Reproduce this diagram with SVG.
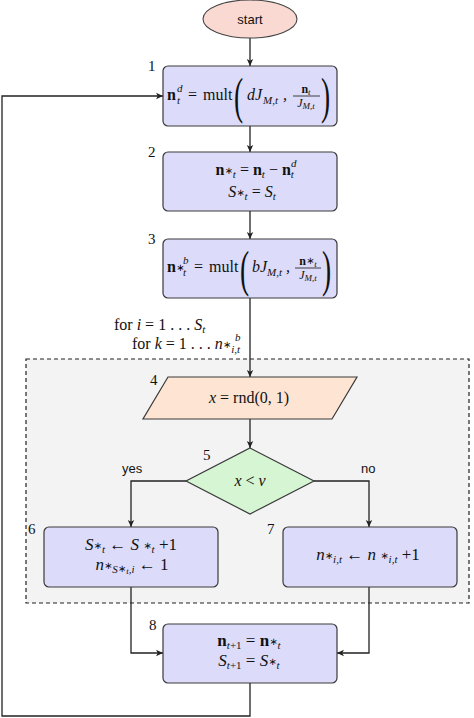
<svg xmlns="http://www.w3.org/2000/svg" width="474" height="718" viewBox="0 0 474 718">
<style>
.box{fill:#dcdcfa;stroke:#3a3a3a;stroke-width:1.2}
.m{font-family:"Liberation Serif",serif;font-style:italic;font-size:16px;fill:#111}
.l{font-size:17px}
.r{font-style:normal}
.b{font-style:normal;font-weight:bold}
.a{font-family:"DejaVu Sans",sans-serif;font-style:normal;font-weight:normal;font-size:10px}
.s{font-size:11px}
.ss{font-size:9px}
.f{font-size:12px}
.num{font-family:"Liberation Serif",serif;font-size:15px;fill:#111}
.sans{font-family:"Liberation Sans",sans-serif;font-size:13px;fill:#111}
.paren{font-family:"Liberation Serif",serif;font-size:50px;fill:#111}
.conn{fill:none;stroke:#222;stroke-width:1.3;marker-end:url(#ah)}
.bar{stroke:#111;stroke-width:0.8}
</style>
<defs>
<marker id="ah" markerUnits="userSpaceOnUse" markerWidth="8" markerHeight="8" refX="7" refY="4" orient="auto">
<path d="M0,0.8 L7,4 L0,7.2 L1.8,4 z" fill="#222"/>
</marker>
</defs>

<rect id="loop-region" x="26" y="359" width="443" height="244" fill="#f3f3f3" stroke="#222" stroke-width="1.2" stroke-dasharray="4,3"/>

<g id="connectors">
<path class="conn" d="M250,38 V66"/>
<path class="conn" d="M250,126 V152"/>
<path class="conn" d="M250,211 V239"/>
<path class="conn" d="M250,298 V377"/>
<path class="conn" d="M250,419 V448"/>
<path class="conn" d="M186,481 H131 V527"/>
<path class="conn" d="M314,481 H369 V527"/>
<path class="conn" d="M131,587 V653 H163"/>
<path class="conn" d="M369,587 V653 H337"/>
<path class="conn" d="M250,683 V716 H2 V96 H163"/>
<text class="sans" x="122" y="473">yes</text>
<text class="sans" x="361" y="473">no</text>
</g>

<g id="start">
<ellipse cx="250" cy="19" rx="47" ry="19" fill="#f9d9d1" stroke="#444" stroke-width="1.1"/>
<text class="sans" x="250" y="24" text-anchor="middle">start</text>
</g>

<g id="node1">
<rect class="box" x="163" y="66" width="174" height="60" rx="5"/>
<text class="num" x="148" y="71">1</text>
<text class="m b" x="167" y="100">n</text>
<text class="m s" x="177" y="104">t</text>
<text class="m s" x="177" y="92">d</text>
<text class="m r" x="188" y="100">=</text>
<text class="m r" x="203" y="100">mult</text>
<text class="paren" transform="translate(234,113) scale(0.55,1)">(</text>
<text class="m" x="247" y="100">d</text>
<text class="m" x="255" y="100">J</text>
<text class="m s" x="263" y="104">M,t</text>
<text class="m" x="283" y="100">,</text>
<text class="m f" x="306" y="93" text-anchor="middle"><tspan class="b">n</tspan><tspan class="ss" dy="2">t</tspan></text>
<line class="bar" x1="293" y1="96" x2="320" y2="96"/>
<text class="m f" x="306" y="107" text-anchor="middle">J<tspan class="ss" dy="2">M,t</tspan></text>
<text class="paren" transform="translate(321,113) scale(0.55,1)">)</text>
</g>

<g id="node2">
<rect class="box" x="163" y="152" width="174" height="59" rx="5"/>
<text class="num" x="148" y="157">2</text>
<text class="m" x="256" y="175" text-anchor="middle"><tspan class="b">n</tspan><tspan class="a" dy="-1">∗</tspan><tspan class="s" dy="4">t</tspan><tspan class="r" dy="-3"> = </tspan><tspan class="b">n</tspan><tspan class="s" dy="3">t</tspan><tspan class="r" dy="-3"> − </tspan><tspan class="b">n</tspan><tspan class="s" dy="3">t</tspan><tspan class="s" dx="-3" dy="-11">d</tspan></text>
<text class="m" x="252" y="197" text-anchor="middle">S<tspan class="a" dy="-1">∗</tspan><tspan class="s" dy="4">t</tspan><tspan class="r" dy="-3"> = </tspan>S<tspan class="s" dy="3">t</tspan></text>
</g>

<g id="node3">
<rect class="box" x="163" y="239" width="174" height="59" rx="5"/>
<text class="num" x="148" y="244">3</text>
<text class="m b" x="167" y="272">n</text>
<text class="a" x="176" y="271">∗</text>
<text class="m s" x="183" y="276">t</text>
<text class="m s" x="183" y="264">b</text>
<text class="m r" x="194" y="272">=</text>
<text class="m r" x="209" y="272">mult</text>
<text class="paren" transform="translate(240,286) scale(0.55,1)">(</text>
<text class="m" x="252" y="272">b</text>
<text class="m" x="260" y="272">J</text>
<text class="m s" x="267" y="276">M,t</text>
<text class="m" x="286" y="272">,</text>
<text class="m f" x="308" y="265" text-anchor="middle"><tspan class="b">n</tspan><tspan class="a" font-size="8px" dy="-1">∗</tspan><tspan class="ss" dy="3">t</tspan></text>
<line class="bar" x1="295" y1="268" x2="321" y2="268"/>
<text class="m f" x="308" y="279" text-anchor="middle">J<tspan class="ss" dy="2">M,t</tspan></text>
<text class="paren" transform="translate(322,286) scale(0.55,1)">)</text>
</g>

<g id="loop-label">
<text class="m" x="114" y="330"><tspan class="r">for </tspan>i<tspan class="r"> = 1 . . . </tspan>S<tspan class="s" dy="3">t</tspan></text>
<text class="m" x="132" y="349"><tspan class="r">for </tspan>k<tspan class="r"> = 1 . . . </tspan>n<tspan class="a" dy="-1">∗</tspan><tspan class="s" dy="5">i,t</tspan></text>
<text class="m s" x="235" y="341">b</text>
</g>

<g id="node4">
<polygon points="168,377 357,377 332,419 143,419" fill="#fde4d3" stroke="#3a3a3a" stroke-width="1.2"/>
<text class="num" x="150" y="385">4</text>
<text class="m" x="249" y="403" text-anchor="middle">x<tspan class="r"> = rnd(0, 1)</tspan></text>
</g>

<g id="node5">
<polygon points="250,448 314,481 250,514 186,481" fill="#d5f5d3" stroke="#3a3a3a" stroke-width="1.2"/>
<text class="num" x="203" y="460">5</text>
<text class="m" x="250" y="486" text-anchor="middle">x<tspan class="r"> &lt; </tspan>ν</text>
</g>

<g id="node6">
<rect class="box" x="44" y="527" width="174" height="60" rx="5"/>
<text class="num" x="28" y="534">6</text>
<text class="m l" x="131" y="550" text-anchor="middle">S<tspan class="a" dy="-1">∗</tspan><tspan class="s" dy="4">t</tspan><tspan class="r" dy="-3"> ← </tspan>S<tspan class="r"> </tspan><tspan class="a" dy="-1">∗</tspan><tspan class="s" dy="4">t</tspan><tspan class="r" dy="-3"> +1</tspan></text>
<text class="m l" x="132" y="570" text-anchor="middle">n<tspan class="a" dy="-1">∗</tspan><tspan class="s" dy="4">S</tspan><tspan class="a" font-size="7px" dy="-1">∗</tspan><tspan class="ss" dy="2">t</tspan><tspan class="s" dy="-1">,i</tspan><tspan class="r" dy="-3"> ← 1</tspan></text>
</g>

<g id="node7">
<rect class="box" x="283" y="527" width="174" height="60" rx="5"/>
<text class="num" x="267" y="534">7</text>
<text class="m l" x="368" y="560" text-anchor="middle">n<tspan class="a" dy="-1">∗</tspan><tspan class="s" dy="4">i,t</tspan><tspan class="r" dy="-3"> ← </tspan>n<tspan class="r"> </tspan><tspan class="a" dy="-1">∗</tspan><tspan class="s" dy="4">i,t</tspan><tspan class="r" dy="-3"> +1</tspan></text>
</g>

<g id="node8">
<rect class="box" x="163" y="624" width="174" height="59" rx="5"/>
<text class="num" x="149" y="630">8</text>
<text class="m l" x="249" y="646" text-anchor="middle"><tspan class="b">n</tspan><tspan class="s" dy="3">t</tspan><tspan class="s r">+1</tspan><tspan class="r" dy="-3"> = </tspan><tspan class="b">n</tspan><tspan class="a" dy="-1">∗</tspan><tspan class="s" dy="4">t</tspan></text>
<text class="m l" x="249" y="666" text-anchor="middle">S<tspan class="s" dy="3">t</tspan><tspan class="s r">+1</tspan><tspan class="r" dy="-3"> = </tspan>S<tspan class="a" dy="-1">∗</tspan><tspan class="s" dy="4">t</tspan></text>
</g>
</svg>
